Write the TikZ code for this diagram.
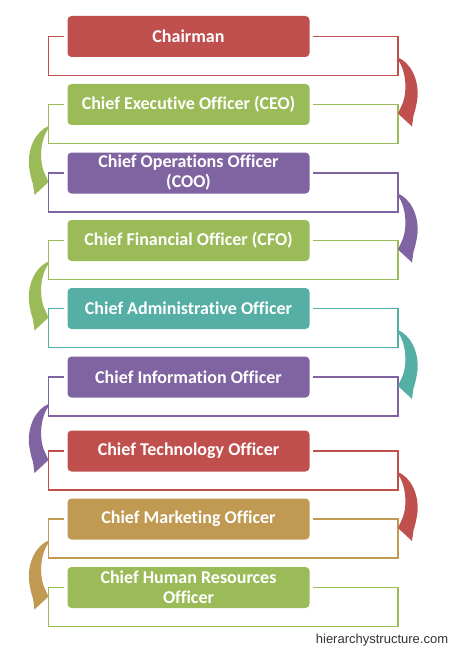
\documentclass[tikz,border=0pt]{standalone}
\usepackage{fontspec}
\setmainfont{Carlito}[Ligatures=NoCommon]
\newfontfamily\webfont{Liberation Sans}

\definecolor{cred}{HTML}{C0504D}
\definecolor{cgreen}{HTML}{9BBB59}
\definecolor{cpurple}{HTML}{8064A2}
\definecolor{cteal}{HTML}{55AFA4}
\definecolor{ctan}{HTML}{C09A52}

\begin{document}
\begin{tikzpicture}[x=1pt, y=-1pt,
    officer/.style={rounded corners=4pt, minimum width=242pt, minimum height=41pt, inner sep=0pt,
        text=white, align=center, font=\fontsize{18}{20}\selectfont\bfseries},
    frame/.style={line width=1.9pt},
    bendarrow/.pic={
        \fill[pic actions] (0,0) .. controls (12,5) and (21,21) .. (19.5,40)
            .. controls (18.5,48) and (17,54) .. (15.5,58) -- (14,69) -- (0,56) -- (5,45)
            .. controls (9.5,32) and (7.5,12) .. (0,2.5) -- cycle;
    }]
    \useasboundingbox (0,0) rectangle (450,650);

    % officer boxes
    \node[officer, fill=cred]    (chair) at (188.5,36.5) {Chairman};
    \node[officer, fill=cgreen]  (ceo)   at (188.5,104.5) {Chief Executive Officer (CEO)};
    \node[officer, fill=cpurple] (coo)   at (188.5,173) {Chief Operations Officer\\(COO)};
    \node[officer, fill=cgreen]  (cfo)   at (188.5,240.5) {Chief Financial Officer (CFO)};
    \node[officer, fill=cteal]   (cao)   at (188.5,308.5) {Chief Administrative Officer};
    \node[officer, fill=cpurple] (cio)   at (188.5,377) {Chief Information Officer};
    \node[officer, fill=cred]    (cto)   at (188.5,451) {Chief Technology Officer};
    \node[officer, fill=ctan]    (cmo)   at (188.5,519) {Chief Marketing Officer};
    \node[officer, fill=cgreen]  (chro)  at (188.5,587.5) {Chief Human Resources\\Officer};

    % open frames behind each box
    \draw[frame, cred]    ([xshift=-3pt]chair.west) -- (48.5,36.5) -- (48.5,75.5) -- (398,75.5) -- (398,36.5) -- ([xshift=3pt]chair.east);
    \draw[frame, cgreen]  ([xshift=-3pt]ceo.west) -- (48.5,104.5) -- (48.5,143.5) -- (398,143.5) -- (398,104.5) -- ([xshift=3pt]ceo.east);
    \draw[frame, cpurple] ([xshift=-3pt]coo.west) -- (48.5,173) -- (48.5,212) -- (398,212) -- (398,173) -- ([xshift=3pt]coo.east);
    \draw[frame, cgreen]  ([xshift=-3pt]cfo.west) -- (48.5,240.5) -- (48.5,279.5) -- (398,279.5) -- (398,240.5) -- ([xshift=3pt]cfo.east);
    \draw[frame, cteal]   ([xshift=-3pt]cao.west) -- (48.5,308.5) -- (48.5,347.5) -- (398,347.5) -- (398,308.5) -- ([xshift=3pt]cao.east);
    \draw[frame, cpurple] ([xshift=-3pt]cio.west) -- (48.5,377) -- (48.5,416) -- (398,416) -- (398,377) -- ([xshift=3pt]cio.east);
    \draw[frame, cred]    ([xshift=-3pt]cto.west) -- (48.5,451) -- (48.5,490) -- (398,490) -- (398,451) -- ([xshift=3pt]cto.east);
    \draw[frame, ctan]    ([xshift=-3pt]cmo.west) -- (48.5,519) -- (48.5,558) -- (398,558) -- (398,519) -- ([xshift=3pt]cmo.east);
    \draw[frame, cgreen]  ([xshift=-3pt]chro.west) -- (48.5,587.5) -- (48.5,626.5) -- (398,626.5) -- (398,587.5) -- ([xshift=3pt]chro.east);

    % curved arrows, alternating sides
    \pic[fill=cred]                 at (398,57.5)  {bendarrow};
    \pic[fill=cgreen, xscale=-1]    at (48.5,126)  {bendarrow};
    \pic[fill=cpurple]              at (398,193.5) {bendarrow};
    \pic[fill=cgreen, xscale=-1]    at (48.5,261.5) {bendarrow};
    \pic[fill=cteal]                at (398,330)   {bendarrow};
    \pic[fill=cpurple, xscale=-1]   at (48.5,404)  {bendarrow};
    \pic[fill=cred]                 at (398,472)   {bendarrow};
    \pic[fill=ctan, xscale=-1]      at (48.5,540.5) {bendarrow};

    \node[font=\webfont\fontsize{13}{15}\selectfont, text=black!80] (site) at (382,640) {hierarchystructure.com};
\end{tikzpicture}
\end{document}
